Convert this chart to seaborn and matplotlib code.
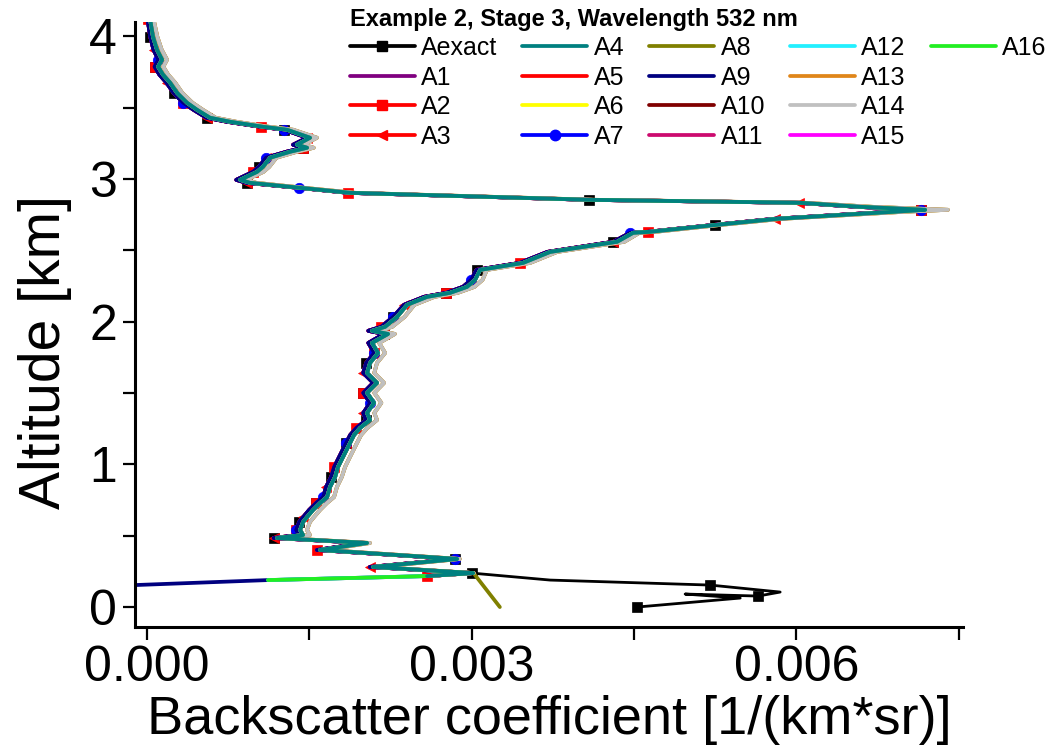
import numpy as np
import pandas as pd
import matplotlib
matplotlib.use("Agg")
import matplotlib.pyplot as plt
from matplotlib.lines import Line2D
from matplotlib.ticker import MultipleLocator, FormatStrFormatter
import seaborn as sns

# ---------------------------------------------------------------------------
# Retrieved backscatter profiles (altitude in km, beta in 1e-3 /(km*sr))
# ---------------------------------------------------------------------------
altitude_km = [4.120, 3.997, 3.906, 3.836, 3.787, 3.731, 3.675, 3.604, 3.534, 3.485,
               3.429, 3.401, 3.366, 3.345, 3.289, 3.240, 3.219, 3.191, 3.149, 3.086,
               3.050, 2.994, 2.973, 2.938, 2.903, 2.854, 2.833, 2.805, 2.784, 2.770,
               2.721, 2.679, 2.630, 2.623, 2.560, 2.489, 2.412, 2.363, 2.293, 2.244,
               2.202, 2.174, 2.118, 2.034, 1.964, 1.936, 1.914, 1.851, 1.781, 1.711,
               1.641, 1.571, 1.501, 1.431, 1.360, 1.311, 1.255, 1.206, 1.150, 1.052,
               0.982, 0.912, 0.842, 0.771, 0.729, 0.680, 0.631, 0.596, 0.540, 0.505,
               0.484, 0.449, 0.400, 0.337, 0.281, 0.238]

beta_left = [0.005, 0.030, 0.060, 0.105, 0.070, 0.115, 0.180, 0.245, 0.335, 0.430,
             0.550, 0.740, 1.050, 1.270, 1.480, 1.350, 1.445, 1.290, 1.100, 1.035,
             0.980, 0.825, 0.920, 1.400, 1.860, 4.080, 6.020, 6.560, 7.150, 6.860,
             5.800, 5.250, 4.630, 4.465, 4.310, 3.700, 3.445, 3.045, 2.995, 2.920,
             2.765, 2.560, 2.375, 2.275, 2.165, 2.045, 2.190, 2.045, 2.100, 2.025,
             1.998, 2.090, 1.998, 2.062, 1.998, 2.025, 1.935, 1.878, 1.840, 1.776,
             1.730, 1.702, 1.655, 1.628, 1.563, 1.498, 1.444, 1.406, 1.378, 1.405,
             1.170, 2.010, 1.570, 2.850, 2.060, 3.000]

beta_mid = [0.028, 0.055, 0.092, 0.139, 0.102, 0.148, 0.213, 0.277, 0.370, 0.462,
            0.582, 0.767, 1.072, 1.294, 1.506, 1.386, 1.479, 1.322, 1.137, 1.072,
            1.017, 0.860, 0.952, 1.414, 1.876, 4.094, 6.035, 6.590, 7.190, 6.895,
            5.822, 5.268, 4.649, 4.492, 4.344, 3.725, 3.475, 3.078, 3.031, 2.957,
            2.800, 2.588, 2.403, 2.311, 2.200, 2.079, 2.227, 2.079, 2.135, 2.061,
            2.033, 2.126, 2.033, 2.098, 2.033, 2.061, 1.969, 1.913, 1.876, 1.811,
            1.765, 1.738, 1.691, 1.664, 1.599, 1.534, 1.479, 1.442, 1.414, 1.442,
            1.201, 2.033, 1.599, 2.865, 2.089, 3.013]

beta_right = [0.060, 0.095, 0.135, 0.185, 0.150, 0.195, 0.260, 0.325, 0.420, 0.515,
              0.635, 0.825, 1.125, 1.350, 1.570, 1.445, 1.540, 1.385, 1.195, 1.130,
              1.075, 0.915, 1.010, 1.450, 1.920, 4.140, 6.080, 6.700, 7.400, 6.990,
              5.870, 5.310, 4.700, 4.550, 4.410, 3.790, 3.540, 3.140, 3.100, 3.025,
              2.870, 2.655, 2.470, 2.380, 2.265, 2.140, 2.290, 2.145, 2.200, 2.125,
              2.100, 2.190, 2.100, 2.165, 2.100, 2.125, 2.035, 1.978, 1.940, 1.875,
              1.830, 1.800, 1.755, 1.728, 1.662, 1.598, 1.543, 1.505, 1.478, 1.505,
              1.250, 2.060, 1.640, 2.890, 2.130, 3.020]

# near-ground behaviour of the individual profiles
tail_exact_alt = [0.189, 0.154, 0.105, 0.077, 0.091, 0.063, 0.000]
tail_exact_beta = [3.725, 5.203, 5.850, 5.647, 4.972, 5.481, 4.529]
tail_a8_alt = [0.225, 0.000]
tail_a8_beta = [3.030, 3.260]
tail_short_alt = [0.217]
tail_short_beta = [2.588]
tail_mid_alt = [0.217, 0.189]
tail_mid_beta = [2.588, 1.118]
tail_long_alt = [0.217, 0.189, 0.154, 0.140]
tail_long_beta = [2.588, 1.118, -0.111, -0.600]

series_names = ["Aexact", "A1", "A2", "A3", "A4", "A5", "A6", "A7", "A8",
                "A9", "A10", "A11", "A12", "A13", "A14", "A15", "A16"]
series_colors = ["#000000", "#800080", "#FF0000", "#FF0000", "#008080", "#FF0000",
                 "#FFFF00", "#0000FF", "#808000", "#000080", "#800000", "#CC0A6E",
                 "#22F0FF", "#E0861A", "#C0C0C0", "#FF00FF", "#22EE22"]
series_profile = ["left", "left", "left", "left", "mid", "left", "mid", "left", "right",
                  "left", "mid", "mid", "mid", "right", "right", "mid", "mid"]
series_tail = ["exact", "short", "short", "short", "short", "short", "short", "short",
               "a8", "long", "short", "short", "mid", "short", "short", "short", "mid"]
series_marker = {"Aexact": "s", "A2": "s", "A3": "<", "A7": "o"}

profiles = {"left": beta_left, "mid": beta_mid, "right": beta_right}
tails = {"exact": (tail_exact_alt, tail_exact_beta),
         "a8": (tail_a8_alt, tail_a8_beta),
         "short": (tail_short_alt, tail_short_beta),
         "mid": (tail_mid_alt, tail_mid_beta),
         "long": (tail_long_alt, tail_long_beta)}

rows = []
for name, prof, tail in zip(series_names, series_profile, series_tail):
    t_alt, t_beta = tails[tail]
    alts = list(altitude_km) + list(t_alt)
    betas = list(profiles[prof]) + list(t_beta)
    for i, (a, b) in enumerate(zip(alts, betas)):
        rows.append({"series": name, "idx": i, "altitude": a, "beta": b * 1e-3})
df = pd.DataFrame(rows)

# ---------------------------------------------------------------------------
sns.set_style("ticks")
plt.rcParams["font.family"] = ["Liberation Sans", "DejaVu Sans"]
for key in ("text.color", "axes.labelcolor", "xtick.color", "ytick.color",
            "axes.edgecolor"):
    plt.rcParams[key] = "black"

fig = plt.figure(figsize=(10.54, 7.52), dpi=100)
ax = fig.add_axes([0.1281, 0.1662, 0.7856, 0.8045])

mark_every = {"Aexact": list(range(1, 76, 3)) + [75, 77, 79, 82],
              "A2": (0, 4), "A3": (2, 4), "A7": (3, 5)}
mark_size = {"Aexact": 6.5, "A2": 6.5, "A3": 7.5, "A7": 7.5}

for name, color in zip(series_names, series_colors):
    sub = df[df["series"] == name].sort_values("idx")
    kw = dict(color=color, linewidth=2.7 if name != "Aexact" else 2.0,
              zorder=3 if name == "A4" else 2)
    if name in series_marker:
        kw.update(marker=series_marker[name], markevery=mark_every[name],
                  markersize=mark_size[name], markeredgecolor=color,
                  markeredgewidth=0.5)
    sns.lineplot(data=sub, x="beta", y="altitude", sort=False, estimator=None,
                 ax=ax, legend=False, **kw)

ax.set_xlim(-0.000111, 0.00754)
ax.set_ylim(-0.14, 4.10)

ax.xaxis.set_major_locator(MultipleLocator(0.003))
ax.xaxis.set_minor_locator(MultipleLocator(0.0015))
ax.xaxis.set_major_formatter(FormatStrFormatter("%.3f"))
ax.yaxis.set_major_locator(MultipleLocator(1))
ax.yaxis.set_minor_locator(MultipleLocator(0.5))
ax.yaxis.set_major_formatter(FormatStrFormatter("%d"))

sns.despine(ax=ax)
for side in ("left", "bottom"):
    ax.spines[side].set_linewidth(2.2)
    ax.spines[side].set_color("black")
ax.tick_params(which="both", direction="out", length=9, width=1.6, color="black")
ax.tick_params(axis="both", which="major", labelsize=36, pad=4, labelcolor="black")

ax.set_xlabel("Backscatter coefficient [1/(km*sr)]", fontsize=39, labelpad=3)
ax.set_ylabel("Altitude [km]", fontsize=41)
ax.yaxis.set_label_coords(-0.076, 0.455)

# legend built from proxy handles so each entry shows one centred marker
handles = []
for name, color in zip(series_names, series_colors):
    m = series_marker.get(name)
    handles.append(Line2D([], [], color=color, linewidth=2.7, marker=m,
                          markersize=mark_size.get(name, 6), markeredgecolor=color))
labels = list(series_names)
for _ in range(3):
    handles.append(Line2D([], [], linestyle="none"))
    labels.append("")

fig.legend(handles, labels, ncol=5, loc="upper left", bbox_to_anchor=(0.332, 0.99),
           frameon=False, fontsize=18, title="Example 2, Stage 3, Wavelength 532 nm",
           title_fontproperties={"weight": "bold", "size": 17},
           handlelength=2.6, handletextpad=0.25, columnspacing=1.0,
           labelspacing=0.22, borderpad=0, borderaxespad=0, alignment="left")

fig.savefig("out.png", dpi=100)
